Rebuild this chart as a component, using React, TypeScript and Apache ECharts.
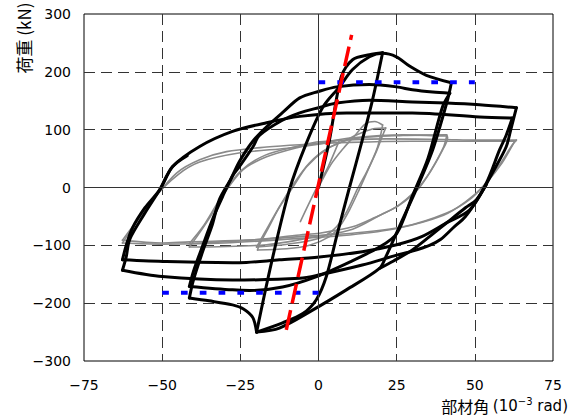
import React, { useEffect, useRef } from 'react';
import * as echarts from 'echarts';

// Axis ticks
const xTicks = [-75, -50, -25, 0, 25, 50, 75];
const yTicks = [-300, -200, -100, 0, 100, 200, 300];

// Black (thick) hysteresis branches [rotation (10^-3 rad), load (kN)]
const black1 = [
  [0, 0], [3.5, 82], [7.3, 192], [10.9, 221], [16.3, 229.6], [20.5, 233],
  [17.3, 152], [14, 82], [9.9, 0], [6, -80], [2.5, -154], [-0.7, -194], [-5, -218], [-11.5, -234], [-19.8, -250],
  [-15, -129], [-9.3, -4], [-4, 75], [1.5, 140], [6.7, 174], [10.9, 204], [16.3, 226], [20.5, 232],
  [24.9, 226], [29.1, 210], [34.5, 194], [42.5, 181],
];
const black2 = [
  [42.5, 181], [41.3, 152], [36.5, 65], [31.2, -4], [25.9, -67], [21.6, -119], [19.5, -140],
  [8.9, -177], [-1.9, -212], [-12.5, -243], [-19.8, -250],
  [-21, -225], [-24, -210], [-27.5, -203], [-35, -196], [-41.3, -191],
  [-40, -160], [-37, -110], [-34, -65], [-31.7, -21], [-28, 15], [-25.3, 45], [-21, 80], [-16.6, 105],
  [-11, 132], [-6, 155], [0, 166], [5.8, 174], [16.3, 178], [25, 174], [30, 169], [36.5, 165], [42, 163],
];
const black3 = [
  [42, 163], [39.7, 140], [35, 50], [30, -15], [25, -80], [19.5, -103], [9.9, -129], [-0.6, -154],
  [-11.5, -172], [-22, -178], [-27.5, -177], [-41.3, -171],
  [-40, -145], [-37, -100], [-33.5, -50], [-30.7, -16], [-27.5, 20], [-25.3, 36], [-21, 70], [-18.9, 90],
  [-12, 115], [-6, 129], [0, 138], [5.8, 146], [16.3, 151], [30, 148], [41, 146], [51.5, 143], [63.3, 138],
];
const black4 = [
  [63.3, 138], [61.5, 100], [60, 70], [55.6, 25], [51.5, -15], [47, -50], [43, -70], [39, -90], [35.5, -100],
  [30, -110], [25, -117], [14, -134], [0.3, -151], [-6, -157], [-27.5, -160], [-50, -154], [-62.7, -143],
  [-61.5, -120], [-60.4, -90], [-55.6, -45], [-50.8, -4], [-46.7, 36], [-38, 71], [-27.5, 97], [-16.6, 112],
  [-6, 123], [9, 129], [30, 129], [51.5, 122], [62, 120],
];
const black5 = [
  [62, 120], [60, 90], [57.9, 65], [53.7, 8], [48.3, -39], [41, -61], [33, -85], [25, -99], [14, -111],
  [0.3, -120], [-12.5, -125], [-25.3, -130], [-48.6, -128], [-62.7, -125],
  [-61.5, -100], [-59.5, -70], [-55.5, -35], [-50.8, -4], [-46.7, 36], [-42, 55],
];
const black6 = [
  [53.7, 5], [50.5, -21], [47, -35], [41, -61], [35.5, -85], [30, -108], [24, -127], [19.5, -140],
];

// Grey (thin) hysteresis history
const grey1 = [
  [0, 0], [4, 40], [8, 68], [12, 92], [15, 110], [18, 114], [20.5, 108], [20, 94], [18.9, 70], [16.3, 36],
  [13, -4], [9.9, -39], [6.7, -68], [3.5, -85], [-2.9, -100], [-10.2, -106], [-19.5, -108],
  [-19, -100], [-16, -70], [-12.5, -34], [-8, 2], [-3.8, 36], [2.5, 66], [8, 80], [14, 95], [18, 102], [21.5, 103],
  [20.5, 90], [18.5, 62], [15.5, 28], [12.5, -2], [9, -42], [5, -72], [0, -88], [-10, -98], [-19.8, -103],
  [-17, -76], [-13, -38], [-8.5, 2], [-3, 42], [3, 68], [10.9, 84], [27, 90], [41, 91],
  [41.3, 86], [39.7, 65], [35.5, 25], [31.3, -4], [25, -33], [18, -52], [10.9, -68], [0.3, -79], [-6, -82],
  [-22, -91], [-41.3, -97], [-37, -68], [-31.7, -22], [-24.3, 30], [-16.6, 53], [-6, 70], [0.3, 77],
  [10.9, 86], [27, 91], [41, 89], [40, 70], [36, 30], [32, -2], [26, -30], [20, -47], [10.9, -72], [0, -84],
  [-16.6, -99], [-41.3, -103], [-38, -78], [-34, -45], [-31, -15], [-25, 28], [-17, 56], [-6, 72], [0.3, 79],
  [21.7, 84], [40, 83], [50.5, 82], [63.3, 82], [62.7, 79], [58.8, 43], [53.7, 8], [48.3, -21], [41, -44],
  [27, -68], [10.9, -79], [-6, -85], [-22, -91], [-41.3, -94], [-50, -96], [-62.7, -91],
  [-59.5, -68], [-53, -22], [-45.4, 25], [-38, 48], [-29.4, 62], [-16.6, 70], [-6, 74], [10, 78], [30, 80],
  [50, 80], [63, 80], [62, 74], [58, 40], [53, 4], [47, -25], [40, -48], [25, -71], [10, -82], [-6, -88],
  [-30, -96], [-50, -98], [-62.7, -96], [-59, -66], [-53, -20], [-45, 22], [-38, 44], [-25, 60], [-10, 68],
  [0, 75], [6.7, 82], [3, 35], [-1, -5], [-5.8, -59],
];

// Reference lines
const yieldPos = [[0, 182], [50, 182]];
const yieldNeg = [[-50, -182], [0, -182]];
const initialStiffness = [[-10.3, -246], [10.6, 264]];

const fmt = (v: number) => (v < 0 ? '\u2212' + Math.abs(v) : String(v));

// split a path at sharp turns so each branch can be smoothed without rounding its peaks
function splitAtCorners(pts: number[][], thresholdDeg = 65): number[][][] {
  const sx = 3.127, sy = 0.578;
  const pieces: number[][][] = [];
  let cur: number[][] = [pts[0]];
  for (let i = 1; i < pts.length; i++) {
    cur.push(pts[i]);
    if (i < pts.length - 1) {
      const ax = (pts[i][0] - pts[i - 1][0]) * sx, ay = (pts[i][1] - pts[i - 1][1]) * sy;
      const bx = (pts[i + 1][0] - pts[i][0]) * sx, by = (pts[i + 1][1] - pts[i][1]) * sy;
      const cos = (ax * bx + ay * by) / (Math.hypot(ax, ay) * Math.hypot(bx, by) || 1);
      const ang = (Math.acos(Math.max(-1, Math.min(1, cos))) * 180) / Math.PI;
      if (ang > thresholdDeg) {
        pieces.push(cur);
        cur = [pts[i]];
      }
    }
  }
  pieces.push(cur);
  return pieces;
}

export default function App() {
  const ref = useRef<HTMLDivElement>(null);
  useEffect(() => {
    document.body.style.margin = '0';
    const chart = echarts.init(ref.current!, null, { renderer: 'svg' });
    const curves = (data: number[][], color: string, width: number, z: number) =>
      splitAtCorners(data).map((piece) => ({
        type: 'line', data: piece, showSymbol: false, symbol: 'none', smooth: 0.3,
        lineStyle: { color, width, join: 'round', cap: 'round' }, z,
      }));
    const blacks = [black1, black2, black3, black4, black5, black6].flatMap((d) => curves(d, '#000', 3, 3));
    const greys = curves(grey1, '#8a8a8a', 1.6, 2);
    chart.setOption({
      animation: false,
      grid: { left: 84, right: 22, top: 14, bottom: 58, show: true, borderColor: '#000', borderWidth: 1 },
      xAxis: {
        type: 'value', min: xTicks[0], max: xTicks[xTicks.length - 1], interval: 25,
        axisLine: { show: false, onZero: false }, axisTick: { show: false },
        axisLabel: { formatter: fmt, margin: 17, color: '#000', fontSize: 14, fontFamily: 'DejaVu Sans' },
        splitLine: { show: true, showMinLine: false, showMaxLine: false, lineStyle: { color: '#333', type: [11, 6], width: 1 } },
      },
      yAxis: {
        type: 'value', min: yTicks[0], max: yTicks[yTicks.length - 1], interval: 100,
        axisLine: { show: false, onZero: false }, axisTick: { show: false },
        axisLabel: { formatter: fmt, margin: 13, color: '#000', fontSize: 14, fontFamily: 'DejaVu Sans' },
        splitLine: { show: true, showMinLine: false, showMaxLine: false, lineStyle: { color: '#333', type: [11, 6], width: 1 } },
      },
      series: [
        {
          type: 'line', data: [], showSymbol: false, symbol: 'none', z: 1,
          markLine: {
            silent: true, symbol: ['none', 'none'], label: { show: false },
            lineStyle: { type: 'solid', color: '#333', width: 1 },
            data: [{ xAxis: 0 }, { yAxis: 0 }],
          },
        },
        ...greys,
        ...blacks,
        {
          type: 'line', data: yieldPos, showSymbol: false, symbol: 'none', z: 5,
          lineStyle: { color: '#0000ff', width: 4, type: [6.7, 12.1], cap: 'butt' },
        },
        {
          type: 'line', data: yieldNeg, showSymbol: false, symbol: 'none', z: 5,
          lineStyle: { color: '#0000ff', width: 4, type: [6.7, 12.1], cap: 'butt' },
        },
        {
          type: 'line', data: initialStiffness, showSymbol: false, symbol: 'none', z: 6,
          lineStyle: { color: '#ff0000', width: 3.5, type: [20, 7], cap: 'butt' },
        },
      ],
      graphic: [
        {
          type: 'text', x: 23, y: 38, rotation: Math.PI / 2,
          style: {
            text: '荷重 (kN)', fill: '#000', font: '17px "Noto Sans CJK JP"',
            textAlign: 'center', textVerticalAlign: 'middle',
          },
        },
        {
          type: 'text', x: 568, y: 406,
          style: {
            text: '{c|部材角 }{n|(10}{s|\u22123}{n| rad)}',
            textAlign: 'right', textVerticalAlign: 'middle', fill: '#000',
            rich: {
              c: { fontSize: 16, fontFamily: 'Noto Sans CJK JP', lineHeight: 20 },
              n: { fontSize: 15, fontFamily: 'DejaVu Sans', lineHeight: 20 },
              s: { fontSize: 10, fontFamily: 'DejaVu Sans', verticalAlign: 'top', lineHeight: 12 },
            },
          },
        },
      ],
    });
    return () => chart.dispose();
  }, []);
  return <div ref={ref} style={{ width: 575, height: 419 }} />;
}
